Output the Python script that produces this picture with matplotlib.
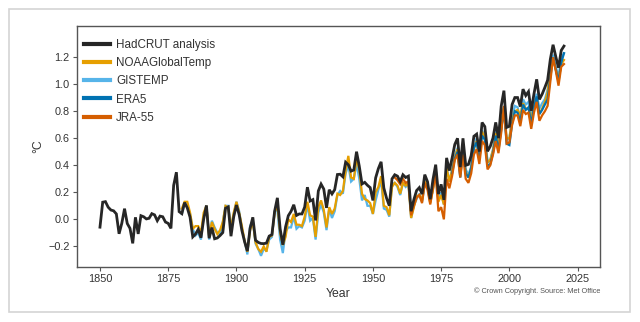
import matplotlib
matplotlib.use("Agg")
import matplotlib.pyplot as plt
from matplotlib.patches import Rectangle

plt.rcParams['font.family'] = ['Liberation Sans', 'DejaVu Sans']

had_years = list(range(1850, 2021))
hadcrut = [
    -0.058, 0.127, 0.131, 0.090, 0.069, 0.063, 0.040, -0.107, -0.029, 0.079,
    -0.031, -0.067, -0.178, 0.015, -0.108, 0.027, 0.019, 0.003, 0.008, 0.042,
    0.033, -0.010, 0.024, 0.019, -0.020, -0.030, -0.067, 0.252, 0.349, 0.057,
    0.042, 0.124, 0.084, 0.016, -0.130, -0.109, -0.074, -0.136, 0.002, 0.103,
    -0.140, -0.061, -0.144, -0.138, -0.120, -0.098, 0.082, 0.092, -0.125, 0.019,
    0.106, 0.034, -0.083, -0.167, -0.235, -0.066, 0.015, -0.155, -0.171, -0.179,
    -0.180, -0.176, -0.124, -0.113, 0.061, 0.159, -0.069, -0.188, -0.056, 0.027,
    0.059, 0.108, 0.029, 0.040, 0.040, 0.091, 0.238, 0.136, 0.146, -0.008,
    0.210, 0.261, 0.224, 0.085, 0.219, 0.188, 0.220, 0.332, 0.334, 0.315,
    0.423, 0.404, 0.357, 0.365, 0.501, 0.394, 0.262, 0.274, 0.252, 0.235,
    0.140, 0.307, 0.376, 0.426, 0.232, 0.157, 0.101, 0.300, 0.330, 0.320,
    0.280, 0.330, 0.310, 0.320, 0.060, 0.146, 0.213, 0.235, 0.187, 0.331,
    0.279, 0.149, 0.294, 0.405, 0.187, 0.259, 0.144, 0.455, 0.361, 0.452,
    0.555, 0.600, 0.387, 0.600, 0.400, 0.407, 0.472, 0.615, 0.631, 0.502,
    0.717, 0.687, 0.504, 0.541, 0.603, 0.718, 0.601, 0.838, 0.953, 0.681,
    0.689, 0.851, 0.902, 0.902, 0.835, 0.964, 0.917, 0.946, 0.804, 0.928,
    1.037, 0.888, 0.927, 0.977, 1.030, 1.185, 1.293, 1.205, 1.123, 1.251,
    1.283,
]

obs_years = list(range(1880, 2021))
noaa = [
    0.08, 0.13, 0.13, 0.05, -0.07, -0.05, -0.05, -0.10, 0.05, 0.10,
    -0.13, -0.02, -0.07, -0.11, -0.08, -0.02, 0.10, 0.09, -0.07, 0.05,
    0.13, 0.05, -0.05, -0.16, -0.24, -0.08, -0.02, -0.17, -0.22, -0.24,
    -0.20, -0.24, -0.13, -0.12, 0.05, 0.11, -0.10, -0.19, -0.13, 0.00,
    -0.02, 0.04, -0.04, -0.04, -0.05, 0.02, 0.13, 0.03, 0.02, -0.13,
    0.09, 0.14, 0.07, -0.06, 0.09, 0.04, 0.08, 0.19, 0.18, 0.21,
    0.36, 0.47, 0.31, 0.30, 0.45, 0.37, 0.19, 0.15, 0.14, 0.12,
    0.04, 0.20, 0.24, 0.32, 0.10, 0.09, 0.03, 0.24, 0.27, 0.25,
    0.19, 0.27, 0.25, 0.27, 0.01, 0.09, 0.17, 0.18, 0.14, 0.28,
    0.24, 0.12, 0.22, 0.36, 0.13, 0.18, 0.11, 0.38, 0.28, 0.36,
    0.46, 0.52, 0.34, 0.51, 0.35, 0.31, 0.38, 0.52, 0.58, 0.47,
    0.65, 0.60, 0.42, 0.44, 0.51, 0.64, 0.53, 0.72, 0.83, 0.60,
    0.60, 0.74, 0.80, 0.81, 0.77, 0.86, 0.82, 0.82, 0.74, 0.84,
    0.90, 0.78, 0.82, 0.87, 0.94, 1.11, 1.19, 1.11, 1.03, 1.15,
    1.18,
]
gistemp = [
    0.04, 0.12, 0.10, 0.04, -0.07, -0.12, -0.10, -0.15, 0.03, 0.10,
    -0.15, -0.01, -0.06, -0.10, -0.11, -0.02, 0.10, 0.10, -0.06, 0.04,
    0.13, 0.06, -0.07, -0.16, -0.26, -0.05, -0.01, -0.18, -0.22, -0.27,
    -0.22, -0.23, -0.15, -0.13, 0.06, 0.07, -0.15, -0.25, -0.09, -0.06,
    -0.06, 0.02, -0.07, -0.05, -0.06, -0.01, 0.11, -0.01, 0.01, -0.15,
    0.05, 0.11, 0.05, -0.08, 0.08, 0.01, 0.06, 0.18, 0.21, 0.19,
    0.34, 0.40, 0.28, 0.30, 0.41, 0.30, 0.14, 0.18, 0.10, 0.10,
    0.04, 0.14, 0.22, 0.29, 0.08, 0.07, 0.02, 0.26, 0.27, 0.24,
    0.18, 0.27, 0.24, 0.26, 0.01, 0.10, 0.15, 0.19, 0.13, 0.26,
    0.24, 0.13, 0.22, 0.37, 0.14, 0.20, 0.11, 0.39, 0.28, 0.37,
    0.47, 0.53, 0.35, 0.52, 0.37, 0.33, 0.39, 0.53, 0.60, 0.48,
    0.66, 0.61, 0.43, 0.44, 0.52, 0.66, 0.54, 0.67, 0.82, 0.59,
    0.60, 0.75, 0.84, 0.83, 0.74, 0.89, 0.85, 0.87, 0.75, 0.86,
    0.93, 0.82, 0.86, 0.89, 0.96, 1.11, 1.22, 1.13, 1.06, 1.19,
    1.23,
]

era5_years = list(range(1979, 2021))
era5 = [
    0.34, 0.45, 0.50, 0.31, 0.52, 0.34, 0.31, 0.38, 0.53, 0.57,
    0.45, 0.62, 0.59, 0.39, 0.41, 0.49, 0.62, 0.51, 0.66, 0.82,
    0.56, 0.55, 0.71, 0.80, 0.79, 0.72, 0.85, 0.81, 0.83, 0.70,
    0.83, 0.91, 0.78, 0.81, 0.85, 0.89, 1.05, 1.20, 1.11, 1.02,
    1.16, 1.23,
]

jra_years = list(range(1958, 2021))
jra55 = [
    0.31, 0.29, 0.26, 0.30, 0.27, 0.28, 0.03, 0.10, 0.16, 0.18,
    0.12, 0.27, 0.22, 0.11, 0.23, 0.33, 0.06, 0.09, 0.00, 0.30,
    0.23, 0.32, 0.44, 0.48, 0.31, 0.48, 0.30, 0.27, 0.34, 0.48,
    0.52, 0.41, 0.58, 0.55, 0.37, 0.40, 0.48, 0.58, 0.49, 0.64,
    0.84, 0.56, 0.57, 0.70, 0.77, 0.77, 0.69, 0.81, 0.78, 0.79,
    0.67, 0.79, 0.87, 0.73, 0.77, 0.80, 0.84, 1.02, 1.20, 1.10,
    0.99, 1.13, 1.15,
]

labels = ["HadCRUT analysis", "NOAAGlobalTemp", "GISTEMP", "ERA5", "JRA-55"]
colors = ["#262626", "#E69F00", "#56B4E9", "#0072B2", "#D55E00"]
xticks = [1850, 1875, 1900, 1925, 1950, 1975, 2000, 2025]
yticks = [-0.2, 0.0, 0.2, 0.4, 0.6, 0.8, 1.0, 1.2]

fig = plt.figure(figsize=(6.4, 3.22), dpi=100)
fig.patch.set_facecolor("white")
fig.add_artist(Rectangle((9 / 640, 1 - 312 / 322), (630 - 9) / 640, (312 - 9) / 322,
                         transform=fig.transFigure, fill=False,
                         edgecolor="#d4d4d4", linewidth=1.2))

ax = fig.add_axes([76.5 / 640, 1 - 267 / 322, (600 - 76.5) / 640, (267 - 25.7) / 322])

series = [
    (had_years, hadcrut, 2.0, 6),
    (obs_years, noaa, 1.6, 3),
    (obs_years, gistemp, 1.6, 2),
    (era5_years, era5, 1.6, 4),
    (jra_years, jra55, 1.6, 5),
]
handles = []
for (xs, ys, lw, z), lab, col in zip(series, labels, colors):
    h, = ax.plot(xs, ys, color=col, linewidth=lw, zorder=z, label=lab,
                 solid_joinstyle="miter")
    handles.append(h)

ax.set_xlim(1841.4, 2033.2)
ax.set_ylim(-0.353, 1.434)
ax.set_xticks(xticks)
ax.set_yticks(yticks)
ax.set_yticklabels([f"{v:.1f}".replace("-", "\u2212") for v in yticks])

for sp in ax.spines.values():
    sp.set_color("#555555")
    sp.set_linewidth(1.0)
ax.tick_params(axis="both", colors="#555555", labelcolor="#333333",
               labelsize=7.8, length=3, width=0.8, pad=2)

ax.set_xlabel("Year", fontsize=8.8, color="#333333", labelpad=3)
ax.set_ylabel("\u00b0C", fontsize=8.8, color="#333333", labelpad=3)

leg = ax.legend(handles=handles, loc="upper left", frameon=False,
                fontsize=8.4, handlelength=2.2, handletextpad=0.5,
                labelspacing=0.52, bbox_to_anchor=(-0.005, 0.987))
for lh in leg.get_lines():
    lh.set_linewidth(3.0)
for t in leg.get_texts():
    t.set_color("#333333")

fig.text(600 / 640, 1 - 291 / 322, "\u00a9 Crown Copyright. Source: Met Office",
         ha="right", va="center", fontsize=5.3, color="#555555")

fig.savefig("out.png", dpi=100, facecolor="white")
